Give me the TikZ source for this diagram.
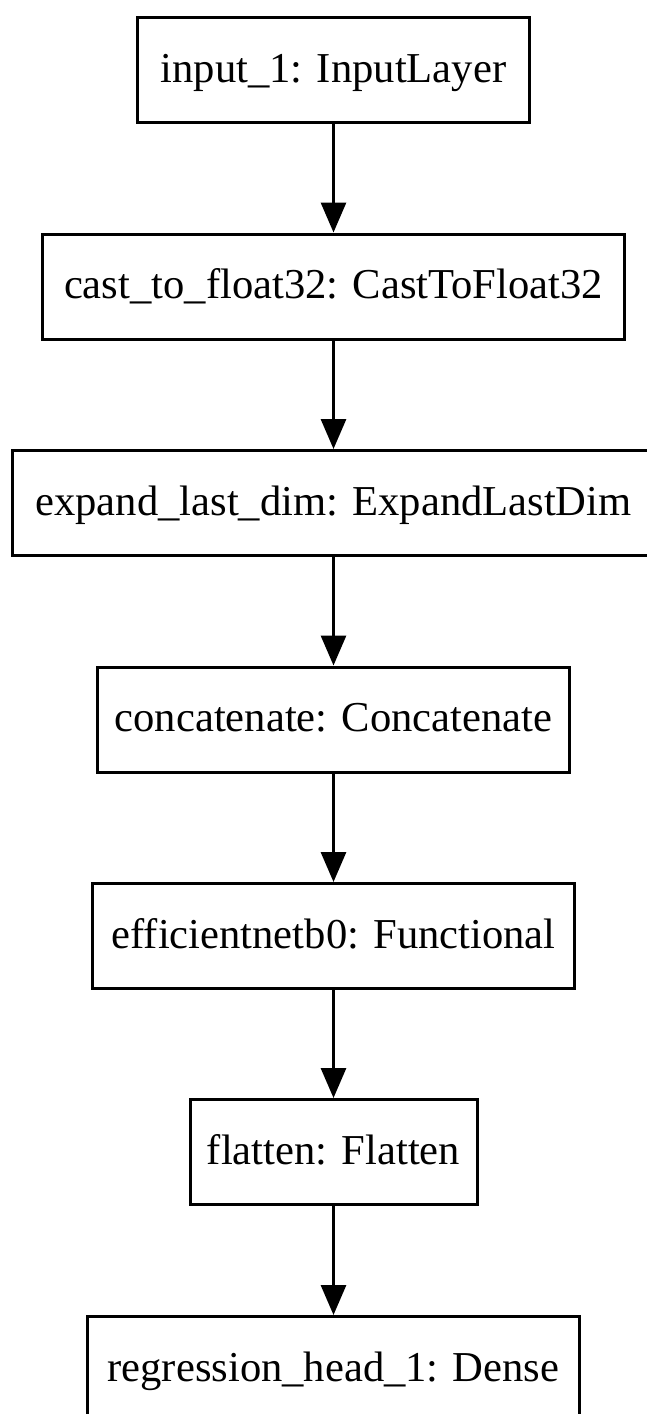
\documentclass[tikz,border=0pt]{standalone}
\usepackage{fontspec}
\setmainfont{Liberation Serif}
\usetikzlibrary{arrows.meta}
\begin{document}
\begin{tikzpicture}[x=0.5pt,y=-0.5pt,
  layer/.style={draw=black, line width=1.5pt, rectangle, inner sep=0pt,
    minimum height=52.5pt, text height=15pt, text depth=3pt,
    font=\fontsize{21.3pt}{24pt}\selectfont},
  flow/.style={draw=black, line width=1.5pt,
    -{Triangle[length=15pt,width=12.5pt]}}]
\useasboundingbox (0,0) rectangle (647,1414);
\clip (0,0) rectangle (647,1414);

% model layers, top to bottom
\node[layer, minimum width=196pt]   (input)   at (333.5,70)    {input\_1: InputLayer};
\node[layer, minimum width=291pt]   (cast)    at (333.5,286.5) {cast\_to\_float32: CastToFloat32};
\node[layer, minimum width=321pt]   (expand)  at (333.5,503)   {expand\_last\_dim: ExpandLastDim};
\node[layer, minimum width=236pt]   (concat)  at (333.5,719.5) {concatenate: Concatenate};
\node[layer, minimum width=241pt]   (effnet)  at (333.5,936)   {efficientnetb0: Functional};
\node[layer, minimum width=143.5pt] (flatten) at (333.5,1152)  {flatten: Flatten};
\node[layer, minimum width=246pt]   (head)    at (333.5,1369)  {regression\_head\_1: Dense};

% data flow
\draw[flow] (input)   -- (cast);
\draw[flow] (cast)    -- (expand);
\draw[flow] (expand)  -- (concat);
\draw[flow] (concat)  -- (effnet);
\draw[flow] (effnet)  -- (flatten);
\draw[flow] (flatten) -- (head);
\end{tikzpicture}
\end{document}
